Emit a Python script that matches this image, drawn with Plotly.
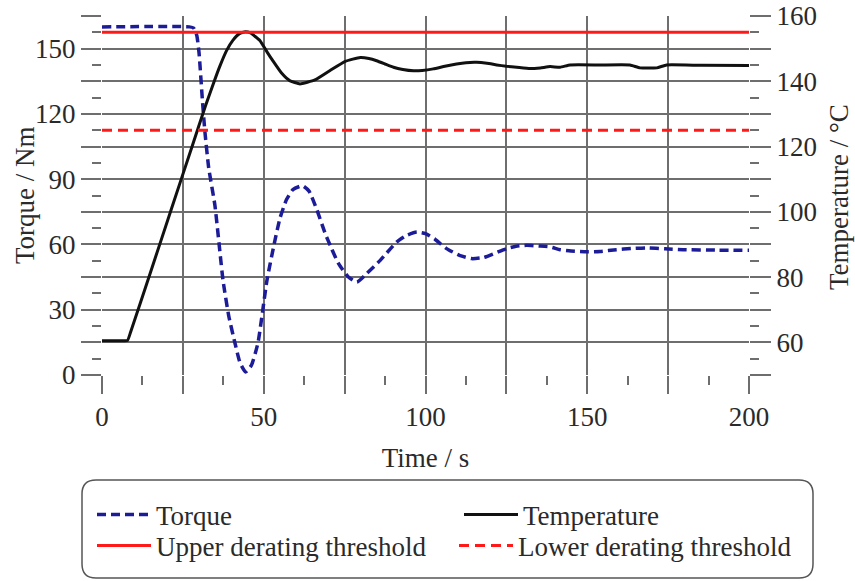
import plotly.graph_objects as go

# ---------------- data ----------------
torque_time = [0, 27, 28.3, 29.3, 30, 31, 31.8, 33, 34.9, 37.4, 39.2, 41.1, 42.7, 44.4, 46.2, 48.2, 51, 53.2,
               55, 57, 59, 62, 64, 66.4, 69, 71, 73, 76, 78.8, 81.8, 86, 91.1, 94.2, 97.3, 100,
               103, 106.5, 110.5, 114.3, 118, 121.5, 125.1, 128, 131.3, 135, 138.5, 141.6, 145,
               149.8, 154, 159, 163.5, 168.3, 174, 179.6, 190, 200]
torque = [160, 160, 159.5, 156, 148, 127, 112, 95, 78, 43.6, 27, 14.7, 5.5, 1.4, 4.5, 14.7, 43.6, 60,
          72, 80.5, 85.2, 87, 84.5, 76, 65, 58, 51.5, 45.3, 42.7, 46.6, 52.7, 61.1, 64.2, 65.7, 65,
          62.3, 58.1, 55, 53.5, 54, 56, 58.1, 59.2, 59.6, 59.3, 58.9, 57.6, 57,
          56.6, 56.8, 57.6, 58.1, 58.4, 58, 57.6, 57.4, 57.3]

temp_time = [0, 7, 7.9, 8.8, 15, 21.5, 28, 32, 34.5, 36.5, 38.5, 40.5, 42.5, 44.3, 45.9, 48.8, 51, 53, 55.5,
             58, 61.2, 65.8, 70.5, 75.2, 79.8, 82.5, 84.9, 87.5, 90.1, 93, 96.3,
             99, 102.4, 106, 109.6, 112.5, 115.8, 119, 122, 125, 128.2, 132.3, 135.5, 138.5, 141.6,
             144.7, 154, 163.2, 166.3, 171.5, 174.5, 185, 200]
temperature = [60.5, 60.5, 60.6, 63, 81.5, 101, 120.5, 132.5, 139.5, 144.8, 149.4, 152.6, 154.6, 155.2, 154.8, 152.5, 149, 146, 142.5,
               140.2, 139.2, 140.4, 143.3, 146.1, 147.3, 147, 146.3, 145.3, 144.3, 143.6, 143.2,
               143.3, 143.8, 144.6, 145.3, 145.7, 145.8, 145.5, 145, 144.6, 144.3, 143.9, 144.1, 144.5, 144.3,
               145, 145, 145, 144.1, 144.1, 145, 144.9, 144.8]

threshold_time = [0, 200]
upper_threshold = [155, 155]
lower_threshold = [125, 125]

x_tickvals = [0, 25, 50, 75, 100, 125, 150, 175, 200]
x_ticktext = ["0", "", "50", "", "100", "", "150", "", "200"]
y1_tickvals = [0, 15, 30, 45, 60, 75, 90, 105, 120, 135, 150, 165]
y1_ticktext = ["0", "", "30", "", "60", "", "90", "", "120", "", "150", ""]
y2_tickvals = [50, 60, 70, 80, 90, 100, 110, 120, 130, 140, 150, 160]
y2_ticktext = ["", "60", "", "80", "", "100", "", "120", "", "140", "", "160"]

# ---------------- styling ----------------
FONT = "Liberation Serif"
FS = 27
TXT = "#2a2a2a"
GRID = "#6e6e6e"
W, H = 855, 581
L, R, T, B = 102, 106, 16, 206
pw, ph = W - L - R, H - T - B

def px(xp):
    return (xp - L) / pw

def py(yp):
    return (H - B - yp) / ph

fig = go.Figure()
fig.add_trace(go.Scatter(x=torque_time, y=torque, name="Torque", mode="lines",
                         line=dict(color="#1c1c99", width=3.5, dash="9px,5px", shape="spline", smoothing=0.5),
                         yaxis="y", legend="legend"))
fig.add_trace(go.Scatter(x=temp_time, y=temperature, name="Temperature", mode="lines",
                         line=dict(color="#111111", width=3, shape="spline", smoothing=0.4),
                         yaxis="y2", legend="legend2"))
fig.add_trace(go.Scatter(x=threshold_time, y=upper_threshold, name="Upper derating threshold", mode="lines",
                         line=dict(color="#ff1a1a", width=3), yaxis="y2", legend="legend3"))
fig.add_trace(go.Scatter(x=threshold_time, y=lower_threshold, name="Lower derating threshold", mode="lines",
                         line=dict(color="#ff1a1a", width=3, dash="10px,6px"), yaxis="y2", legend="legend4"))

axis_common = dict(showline=False, zeroline=False, ticks="outside", tickcolor=GRID, tickwidth=1.5,
                   gridcolor=GRID, gridwidth=1.5, tickfont=dict(family=FONT, size=FS, color=TXT))

def legend_at(xpix, ypix):
    return dict(orientation="h", xref="container", yref="container", x=xpix / W, xanchor="left",
                y=1 - ypix / H, yanchor="middle", bgcolor="rgba(0,0,0,0)", borderwidth=0,
                itemwidth=54, font=dict(family=FONT, size=FS, color=TXT))

fig.update_layout(
    width=W, height=H,
    margin=dict(l=L, r=R, t=T, b=B, autoexpand=False),
    paper_bgcolor="white", plot_bgcolor="white",
    font=dict(family=FONT, size=FS, color=TXT),
    xaxis=dict(range=[0, 200], tickmode="array", tickvals=x_tickvals, ticktext=x_ticktext,
               ticklen=18, showgrid=True,
               minor=dict(dtick=12.5, tick0=0, ticks="outside", ticklen=9, tickcolor=GRID, tickwidth=1.5, showgrid=False),
               title=dict(text="Time / s", font=dict(family=FONT, size=FS, color=TXT), standoff=16),
               **axis_common),
    yaxis=dict(range=[0, 165], tickmode="array", tickvals=y1_tickvals, ticktext=y1_ticktext,
               ticklen=20, showgrid=True,
               minor=dict(dtick=7.5, tick0=0, ticks="outside", ticklen=9, tickcolor=GRID, tickwidth=1.5, showgrid=False),
               **axis_common),
    yaxis2=dict(range=[50, 160], overlaying="y", side="right", tickmode="array",
                tickvals=y2_tickvals, ticktext=y2_ticktext, ticklen=21, showgrid=False,
                minor=dict(dtick=5, tick0=50, ticks="outside", ticklen=9, tickcolor=GRID, tickwidth=1.5, showgrid=False),
                **axis_common),
    showlegend=True,
    legend=legend_at(92, 515),
    legend2=legend_at(459, 515),
    legend3=legend_at(92, 546),
    legend4=legend_at(454, 546),
)

# axis titles placed as rotated text
fig.add_annotation(text="Torque / Nm", xref="paper", yref="paper", x=px(25), y=py(195),
                   textangle=-90, showarrow=False, xanchor="center", yanchor="middle",
                   font=dict(family=FONT, size=FS, color=TXT))
fig.add_annotation(text="Temperature / °C", xref="paper", yref="paper", x=px(839), y=py(197),
                   textangle=-90, showarrow=False, xanchor="center", yanchor="middle",
                   font=dict(family=FONT, size=FS, color=TXT))

# rounded legend frame (pixel geometry converted to paper coordinates)
x0, x1, y0, y1, r = 82, 813, 480, 578, 14
path = (f"M {px(x0 + r)},{py(y0)} L {px(x1 - r)},{py(y0)} Q {px(x1)},{py(y0)} {px(x1)},{py(y0 + r)} "
        f"L {px(x1)},{py(y1 - r)} Q {px(x1)},{py(y1)} {px(x1 - r)},{py(y1)} "
        f"L {px(x0 + r)},{py(y1)} Q {px(x0)},{py(y1)} {px(x0)},{py(y1 - r)} "
        f"L {px(x0)},{py(y0 + r)} Q {px(x0)},{py(y0)} {px(x0 + r)},{py(y0)} Z")
fig.add_shape(type="path", path=path, xref="paper", yref="paper",
              line=dict(color="#555555", width=1.5), fillcolor="rgba(0,0,0,0)", layer="above")

fig.write_html("out.html")
